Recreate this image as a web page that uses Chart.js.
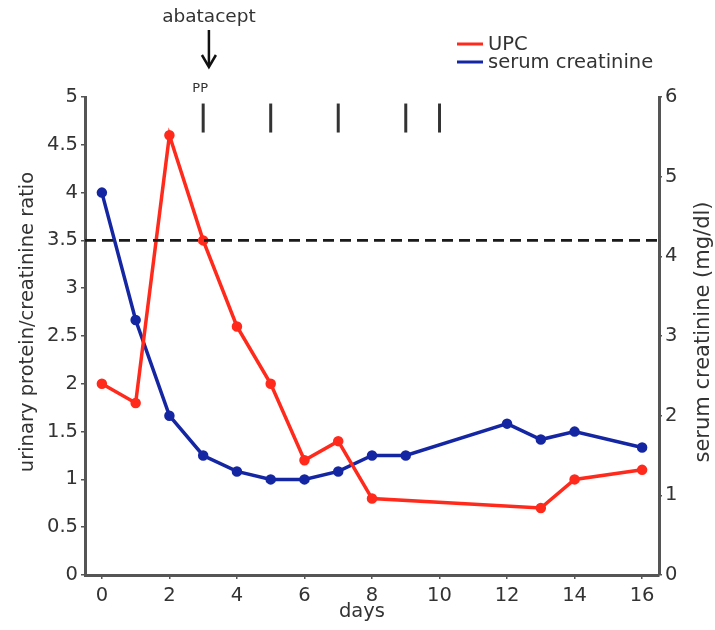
<!DOCTYPE html>
<html><head><meta charset="utf-8">
<script src="https://cdn.jsdelivr.net/npm/chart.js@4.4.0/dist/chart.umd.min.js"></script>
<style>html,body{margin:0;padding:0;background:#fff}#wrap{width:715px;height:630px;position:relative}</style>
</head><body><div id="wrap"><canvas id="c"></canvas></div>
<script>
const seriesNames = ['UPC', 'serum creatinine'];
const upcDays = [0, 1, 2, 3, 4, 5, 6, 7, 8, 13, 14, 16];
const upcValues = [2.0, 1.8, 4.6, 3.5, 2.6, 2.0, 1.2, 1.4, 0.8, 0.7, 1.0, 1.1];
const creatDays = [0, 1, 2, 3, 4, 5, 6, 7, 8, 9, 12, 13, 14, 16];
const creatValues = [4.8, 3.2, 2.0, 1.5, 1.3, 1.2, 1.2, 1.3, 1.5, 1.5, 1.9, 1.7, 1.8, 1.6];
const ppDays = [3, 5, 7, 9, 10];
const abataceptDay = 3.17;
const threshold = 3.5;
const xTicks = [0, 2, 4, 6, 8, 10, 12, 14, 16];
const leftTicks = [0, 0.5, 1, 1.5, 2, 2.5, 3, 3.5, 4, 4.5, 5];
const rightTicks = [0, 1, 2, 3, 4, 5, 6];
const xMin = -0.5, xMax = 16.5;
const xTitle = 'days';
const leftTitle = 'urinary protein/creatinine ratio';
const rightTitle = 'serum creatinine (mg/dl)';

const RED = '#ff2a1c', BLUE = '#1526a3', AX = '#555', TXT = '#333';
const FONT = 'DejaVu Sans';

const annot = {
  id: 'annot',
  afterDraw(chart) {
    const ctx = chart.ctx;
    const xs = chart.scales.x;
    ctx.save();
    // legend
    const items = [[seriesNames[0], RED, 44], [seriesNames[1], BLUE, 62]];
    ctx.font = '19.5px "' + FONT + '"';
    ctx.textBaseline = 'middle';
    ctx.textAlign = 'left';
    items.forEach(([t, c, y]) => {
      ctx.strokeStyle = c; ctx.lineWidth = 3;
      ctx.beginPath(); ctx.moveTo(457, y); ctx.lineTo(483, y); ctx.stroke();
      ctx.fillStyle = TXT; ctx.fillText(t, 488, y + 1);
    });
    // abatacept arrow
    const ax = xs.getPixelForValue(abataceptDay);
    ctx.textAlign = 'center';
    ctx.font = '18.5px "' + FONT + '"';
    ctx.fillStyle = TXT;
    ctx.fillText('abatacept', ax, 17);
    ctx.strokeStyle = '#111'; ctx.lineWidth = 2.5;
    ctx.beginPath(); ctx.moveTo(ax, 30); ctx.lineTo(ax, 66); ctx.stroke();
    ctx.beginPath(); ctx.moveTo(ax - 7, 55); ctx.lineTo(ax, 67); ctx.lineTo(ax + 7, 55); ctx.stroke();
    // PP
    ctx.font = '13px "' + FONT + '"';
    ctx.fillText('PP', xs.getPixelForValue(ppDays[0]) - 3, 89);
    // x title
    ctx.font = '19.5px "' + FONT + '"';
    ctx.fillText(xTitle, 362, 612);
    // left title, reading upward
    ctx.save();
    ctx.translate(28, 322);
    ctx.rotate(-Math.PI / 2);
    ctx.font = '19.5px "' + FONT + '"';
    ctx.fillText(leftTitle, 0, 0);
    ctx.restore();
    // right title, reading upward
    ctx.save();
    ctx.translate(704, 332);
    ctx.rotate(-Math.PI / 2);
    ctx.font = '21px "' + FONT + '"';
    ctx.fillText(rightTitle, 0, 0);
    ctx.restore();
    ctx.restore();
  }
};

const tickFont = { family: FONT, size: 19.5 };
const fmt = v => String(v);
new Chart(document.getElementById('c'), {
  type: 'line',
  data: {
    datasets: [
      { label: seriesNames[0], data: upcDays.map((d, i) => ({ x: d, y: upcValues[i] })), yAxisID: 'yL',
        borderColor: RED, backgroundColor: RED, borderWidth: 3.5, pointRadius: 3.5, pointHoverRadius: 3.5, order: 2 },
      { label: seriesNames[1], data: creatDays.map((d, i) => ({ x: d, y: creatValues[i] })), yAxisID: 'yR',
        borderColor: BLUE, backgroundColor: BLUE, borderWidth: 3.5, pointRadius: 3.5, pointHoverRadius: 3.5, order: 2 },
      { label: 'threshold', data: [{ x: xMin, y: threshold }, { x: xMax, y: threshold }], yAxisID: 'yL',
        borderColor: '#1a1a1a', borderWidth: 2.8, borderDash: [11, 6], pointRadius: 0, order: 1 },
      { label: 'PP', data: ppDays.map(d => ({ x: d, y: 4.78 })), yAxisID: 'yL', showLine: false,
        pointStyle: 'line', rotation: 90, pointRadius: 14.5, borderWidth: 3, borderColor: '#333', order: 1 }
    ]
  },
  options: {
    responsive: true, maintainAspectRatio: false, animation: false,
    layout: { padding: { top: 97, left: 0, right: 0, bottom: 0 } },
    plugins: { legend: { display: false }, tooltip: { enabled: false } },
    elements: { line: { tension: 0 } },
    clip: false,
    scales: {
      x: {
        type: 'linear', position: 'bottom', min: xMin, max: xMax,
        afterBuildTicks: s => { s.ticks = xTicks.map(v => ({ value: v })); },
        afterFit: s => { s.height = 55; },
        grid: { drawOnChartArea: false, drawTicks: true, tickLength: 4, color: AX, lineWidth: 1.5 },
        border: { display: true, width: 3, color: AX },
        ticks: { font: tickFont, color: TXT, padding: 5, maxRotation: 0, callback: fmt },
        title: { display: false }
      },
      yL: {
        type: 'linear', position: 'left', min: 0, max: 5,
        afterBuildTicks: s => { s.ticks = leftTicks.map(v => ({ value: v })); },
        afterFit: s => { s.width = 85; },
        grid: { drawOnChartArea: false, drawTicks: true, tickLength: 4, color: AX, lineWidth: 1.5 },
        border: { display: true, width: 3, color: AX },
        ticks: { font: tickFont, color: TXT, padding: 3, callback: fmt },
        title: { display: false }
      },
      yR: {
        type: 'linear', position: 'right', min: 0, max: 6,
        afterBuildTicks: s => { s.ticks = rightTicks.map(v => ({ value: v })); },
        afterFit: s => { s.width = 56; },
        grid: { drawOnChartArea: false, drawTicks: true, tickLength: 3, color: AX, lineWidth: 1.5 },
        border: { display: true, width: 3, color: AX },
        ticks: { font: tickFont, color: TXT, padding: 3, callback: fmt },
        title: { display: false }
      }
    }
  },
  plugins: [annot]
});
</script>
</body></html>
